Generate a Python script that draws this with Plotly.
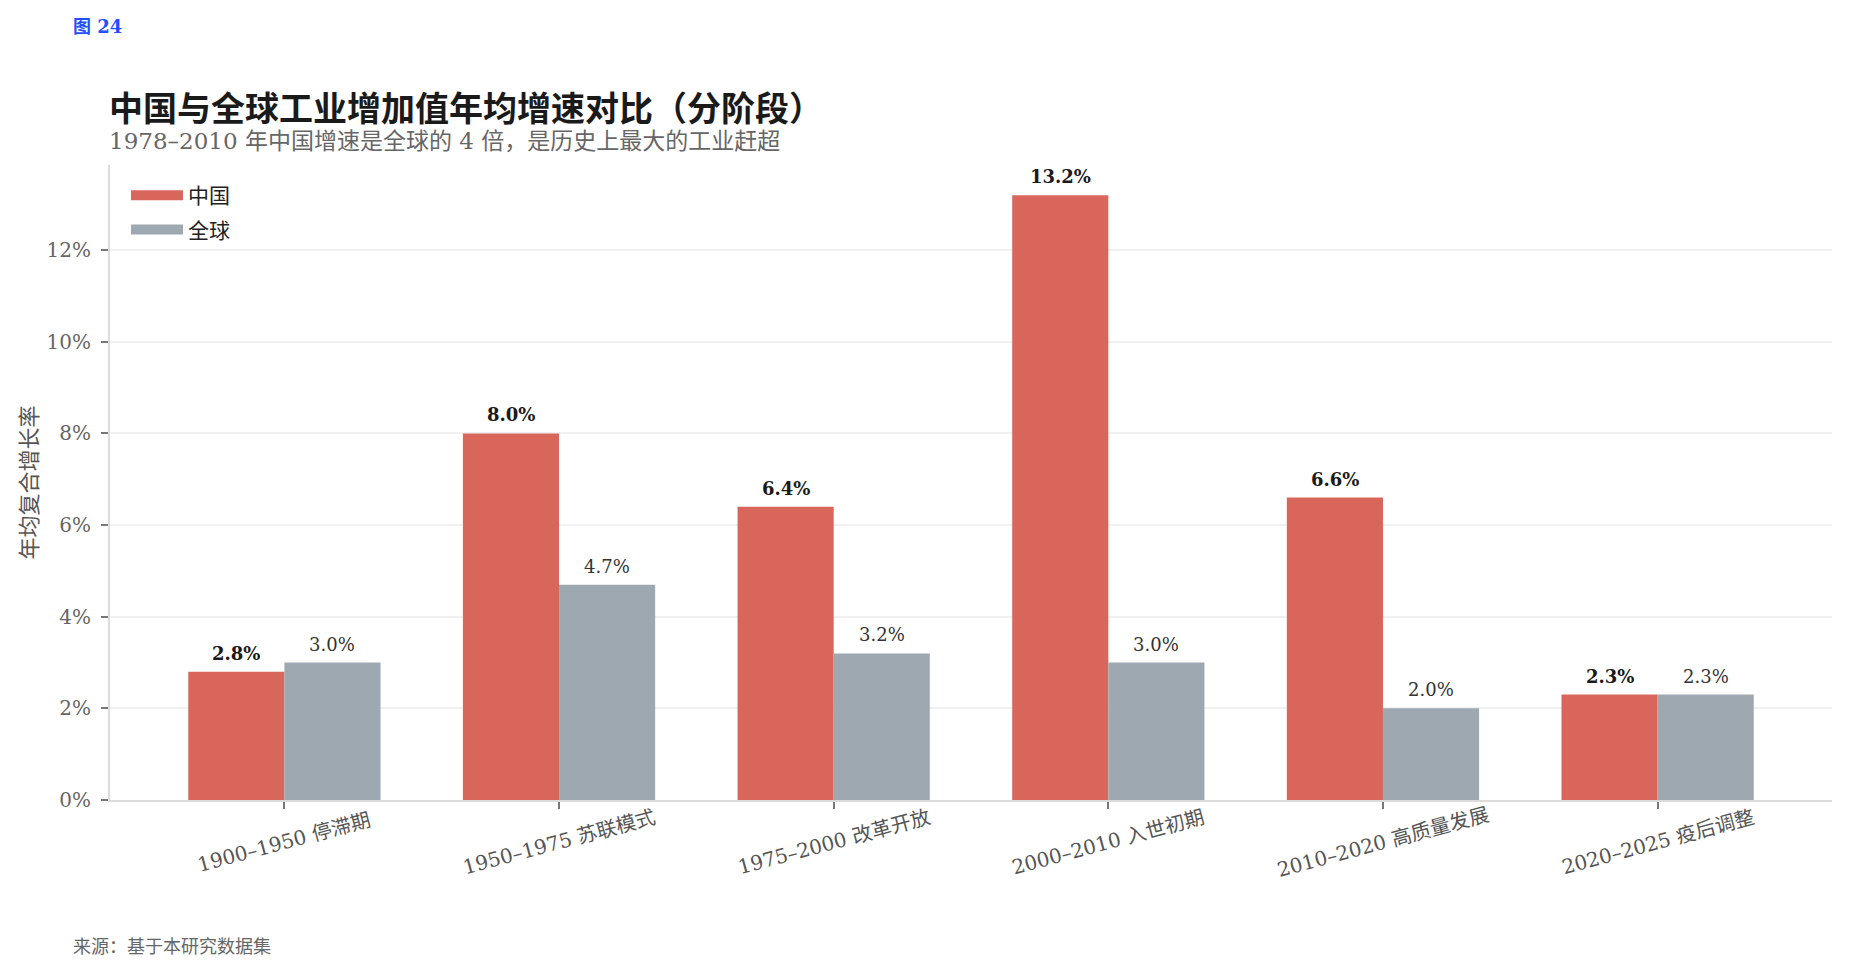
import plotly.graph_objects as go

# ---- data ----
periods = ["1900–1950 停滞期", "1950–1975 苏联模式", "1975–2000 改革开放",
           "2000–2010 入世初期", "2010–2020 高质量发展", "2020–2025 疫后调整"]
china = [2.8, 8.0, 6.4, 13.2, 6.6, 2.3]
world = [3.0, 4.7, 3.2, 3.0, 2.0, 2.3]
yticks = [0, 2, 4, 6, 8, 10, 12]

# ---- layout constants (pixels) ----
W, H = 1850, 976
L, R, T, B = 110, 18, 165, 176
PW, PH = W - L - R, H - T - B
XR = [-0.635, len(periods) - 1 + 0.635]
YR = [0, max(china) * 1.05]
unit_px = PW / (XR[1] - XR[0])
bar_off = 0.175 * unit_px

def px_x(px):
    return (px - L) / PW

def px_y(py):
    return (H - B - py) / PH

SERIF = "DejaVu Serif, Noto Sans CJK SC, serif"
CJK = "Noto Sans CJK SC, sans-serif"
RED = "#d9665a"
GRAY = "#9ea8b1"

fig = go.Figure()
fig.add_trace(go.Bar(name="中国", x=periods, y=china, marker_color=RED,
                     marker_line_width=0, showlegend=False))
fig.add_trace(go.Bar(name="全球", x=periods, y=world, marker_color=GRAY,
                     marker_line_width=0, showlegend=False))
# legend entries drawn as wide swatches
for nm, col in (("中国", RED), ("全球", GRAY)):
    fig.add_trace(go.Scatter(x=[None], y=[None], mode="lines", name=nm,
                             legendgroup=nm, line=dict(color=col, width=16),
                             hoverinfo="skip"))

ann = []
for p, c, w in zip(periods, china, world):
    ann.append(dict(x=p, y=c, xref="x", yref="y", text=f"{c:.1f}%",
                    showarrow=False, yanchor="bottom", xshift=-bar_off, yshift=6,
                    font=dict(family=SERIF, size=18, color="#1a1a1a", weight="bold")))
    ann.append(dict(x=p, y=w, xref="x", yref="y", text=f"{w:.1f}%",
                    showarrow=False, yanchor="bottom", xshift=bar_off, yshift=6,
                    font=dict(family=SERIF, size=18, color="#333333")))
    # rotated category labels centred on the tick
    ann.append(dict(x=p, y=0, xref="x", yref="y", text=p, showarrow=False,
                    yanchor="middle", xanchor="center", yshift=-42, textangle=-15,
                    font=dict(family=SERIF, size=20, color="#555555")))

# y-axis title
ann.append(dict(x=px_x(26), y=0.5, xref="paper", yref="paper", text="年均复合增长率",
                showarrow=False, textangle=-90, xanchor="center", yanchor="middle",
                font=dict(family=CJK, size=22, color="#555555")))
# title + subtitle
ann.append(dict(x=px_x(108), y=px_y(106), xref="paper", yref="paper",
                text="<b>中国与全球工业增加值年均增速对比（分阶段）</b>",
                showarrow=False, xanchor="left", yanchor="middle", borderpad=0,
                font=dict(family=CJK, size=34, color="#1a1a1a")))
ann.append(dict(x=px_x(108), y=px_y(141), xref="paper", yref="paper",
                text="1978–2010 年中国增速是全球的 4 倍，是历史上最大的工业赶超",
                showarrow=False, xanchor="left", yanchor="middle", borderpad=0,
                font=dict(family=SERIF, size=23, color="#666666")))
# figure number
ann.append(dict(x=px_x(71), y=px_y(26), xref="paper", yref="paper",
                text="<b>图 24</b>", showarrow=False, xanchor="left", yanchor="middle",
                font=dict(family=SERIF, size=18, color="#1f4fff")))
# source
ann.append(dict(x=px_x(71), y=px_y(945), xref="paper", yref="paper",
                text="来源：基于本研究数据集", showarrow=False,
                xanchor="left", yanchor="middle",
                font=dict(family=CJK, size=18, color="#666666")))

fig.update_layout(
    width=W, height=H, autosize=False,
    margin=dict(l=L, r=R, t=T, b=B),
    paper_bgcolor="white", plot_bgcolor="white",
    barmode="group", bargap=0.3, bargroupgap=0,
    font=dict(family=SERIF, size=18, color="#555555"),
    showlegend=True,
    legend=dict(x=px_x(126), y=px_y(175), xanchor="left", yanchor="top",
                bgcolor="rgba(255,255,255,0)", borderwidth=0,
                font=dict(family=CJK, size=21, color="#222222"),
                tracegroupgap=4, itemwidth=52),
    annotations=ann,
)
fig.update_xaxes(range=XR, showticklabels=False, ticks="outside", ticklen=7,
                 tickcolor="#777777", tickwidth=1.5, showline=True,
                 linecolor="#dcdcdc", linewidth=2, showgrid=False, zeroline=False,
                 fixedrange=True)
fig.update_yaxes(range=YR, tickvals=yticks, ticktext=[f"{v}%" for v in yticks],
                 ticks="outside", ticklen=7, tickcolor="#777777", tickwidth=1.5,
                 ticklabelstandoff=6,
                 tickfont=dict(family=SERIF, size=20, color="#666666"),
                 showline=True, linecolor="#dcdcdc", linewidth=2,
                 showgrid=True, gridcolor="#f0f0f0", gridwidth=1.5,
                 zeroline=False, fixedrange=True)

fig.write_html("out.html")
